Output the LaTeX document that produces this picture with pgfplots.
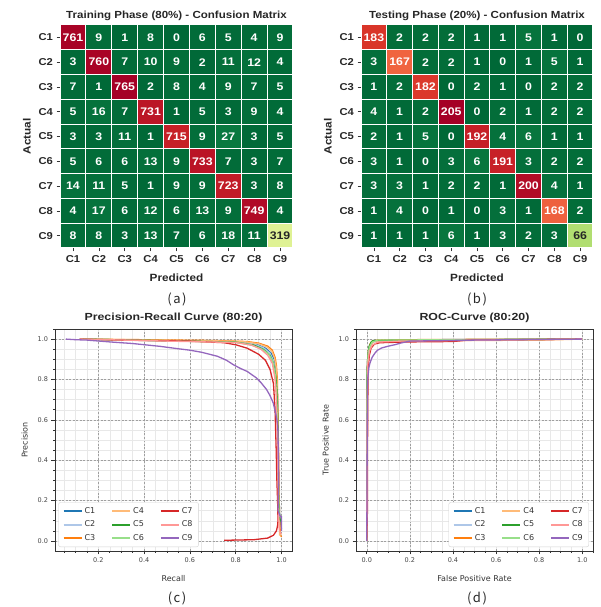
\documentclass[border=0pt]{standalone}
\usepackage{pgfplots}
\pgfplotsset{compat=1.18}
\usepackage{pgfplotstable}
\usepackage{fontspec}
\setmainfont{DejaVu Sans}
\newfontfamily\arialwide[FakeStretch=1.12]{Liberation Sans}
\newfontfamily\arialmid[FakeStretch=1.2]{Liberation Sans}
\newfontfamily\cjk{Noto Sans CJK SC}

\definecolor{cA}{HTML}{1F77B4}
\definecolor{cB}{HTML}{AEC7E8}
\definecolor{cC}{HTML}{FF7F0E}
\definecolor{cD}{HTML}{FFBB78}
\definecolor{cE}{HTML}{2CA02C}
\definecolor{cF}{HTML}{98DF8A}
\definecolor{cG}{HTML}{D62728}
\definecolor{cH}{HTML}{FF9896}
\definecolor{cI}{HTML}{9467BD}
\definecolor{axgray}{HTML}{333333}
\definecolor{tickgray}{HTML}{444444}
\definecolor{darktxt}{HTML}{262626}

% confusion matrices: x = predicted, y = actual, c = count, t = 1 for dark text
\pgfplotstableread[row sep=\\]{
x y c t\\
1 1 761 0\\ 2 1 9 0\\ 3 1 1 0\\ 4 1 8 0\\ 5 1 0 0\\ 6 1 6 0\\ 7 1 5 0\\ 8 1 4 0\\ 9 1 9 0\\
1 2 3 0\\ 2 2 760 0\\ 3 2 7 0\\ 4 2 10 0\\ 5 2 9 0\\ 6 2 2 0\\ 7 2 11 0\\ 8 2 12 0\\ 9 2 4 0\\
1 3 7 0\\ 2 3 1 0\\ 3 3 765 0\\ 4 3 2 0\\ 5 3 8 0\\ 6 3 4 0\\ 7 3 9 0\\ 8 3 7 0\\ 9 3 5 0\\
1 4 5 0\\ 2 4 16 0\\ 3 4 7 0\\ 4 4 731 0\\ 5 4 1 0\\ 6 4 5 0\\ 7 4 3 0\\ 8 4 9 0\\ 9 4 4 0\\
1 5 3 0\\ 2 5 3 0\\ 3 5 11 0\\ 4 5 1 0\\ 5 5 715 0\\ 6 5 9 0\\ 7 5 27 0\\ 8 5 3 0\\ 9 5 5 0\\
1 6 5 0\\ 2 6 6 0\\ 3 6 6 0\\ 4 6 13 0\\ 5 6 9 0\\ 6 6 733 0\\ 7 6 7 0\\ 8 6 3 0\\ 9 6 7 0\\
1 7 14 0\\ 2 7 11 0\\ 3 7 5 0\\ 4 7 1 0\\ 5 7 9 0\\ 6 7 9 0\\ 7 7 723 0\\ 8 7 3 0\\ 9 7 8 0\\
1 8 4 0\\ 2 8 17 0\\ 3 8 6 0\\ 4 8 12 0\\ 5 8 6 0\\ 6 8 13 0\\ 7 8 9 0\\ 8 8 749 0\\ 9 8 4 0\\
1 9 8 0\\ 2 9 8 0\\ 3 9 3 0\\ 4 9 13 0\\ 5 9 7 0\\ 6 9 6 0\\ 7 9 18 0\\ 8 9 11 0\\ 9 9 319 1\\
}\cmtrain

\pgfplotstableread[row sep=\\]{
x y c t\\
1 1 183 0\\ 2 1 2 0\\ 3 1 2 0\\ 4 1 2 0\\ 5 1 1 0\\ 6 1 1 0\\ 7 1 5 0\\ 8 1 1 0\\ 9 1 0 0\\
1 2 3 0\\ 2 2 167 0\\ 3 2 2 0\\ 4 2 2 0\\ 5 2 1 0\\ 6 2 0 0\\ 7 2 1 0\\ 8 2 5 0\\ 9 2 1 0\\
1 3 1 0\\ 2 3 2 0\\ 3 3 182 0\\ 4 3 0 0\\ 5 3 2 0\\ 6 3 1 0\\ 7 3 0 0\\ 8 3 2 0\\ 9 3 2 0\\
1 4 4 0\\ 2 4 1 0\\ 3 4 2 0\\ 4 4 205 0\\ 5 4 0 0\\ 6 4 2 0\\ 7 4 1 0\\ 8 4 2 0\\ 9 4 2 0\\
1 5 2 0\\ 2 5 1 0\\ 3 5 5 0\\ 4 5 0 0\\ 5 5 192 0\\ 6 5 4 0\\ 7 5 6 0\\ 8 5 1 0\\ 9 5 1 0\\
1 6 3 0\\ 2 6 1 0\\ 3 6 0 0\\ 4 6 3 0\\ 5 6 6 0\\ 6 6 191 0\\ 7 6 3 0\\ 8 6 2 0\\ 9 6 2 0\\
1 7 3 0\\ 2 7 3 0\\ 3 7 1 0\\ 4 7 2 0\\ 5 7 2 0\\ 6 7 1 0\\ 7 7 200 0\\ 8 7 4 0\\ 9 7 1 0\\
1 8 1 0\\ 2 8 4 0\\ 3 8 0 0\\ 4 8 1 0\\ 5 8 0 0\\ 6 8 3 0\\ 7 8 1 0\\ 8 8 168 0\\ 9 8 2 0\\
1 9 1 0\\ 2 9 1 0\\ 3 9 1 0\\ 4 9 6 0\\ 5 9 1 0\\ 6 9 3 0\\ 7 9 2 0\\ 8 9 3 0\\ 9 9 66 1\\
}\cmtest

\pgfplotsset{
  hm/.style={
    scale only axis, width=233pt, height=223pt,
    xmin=0.5, xmax=9.5, ymin=0.5, ymax=9.5, y dir=reverse, enlargelimits=false,
    colormap={rdylgnr}{rgb255=(0,104,55) rgb255=(26,152,80) rgb255=(102,189,99)
      rgb255=(166,217,106) rgb255=(217,239,139) rgb255=(255,255,191) rgb255=(254,224,139)
      rgb255=(253,174,97) rgb255=(244,109,67) rgb255=(215,48,39) rgb255=(165,0,38)},
    xtick={1,...,9}, ytick={1,...,9},
    xticklabels={C1,C2,C3,C4,C5,C6,C7,C8,C9},
    yticklabels={C1,C2,C3,C4,C5,C6,C7,C8,C9},
    minor xtick={1.5,2.5,...,8.5}, minor ytick={1.5,2.5,...,8.5},
    xminorgrids, yminorgrids, minor grid style={white, line width=1pt},
    minor tick length=0pt, major tick length=3.5pt,
    tick align=outside, xtick pos=bottom, ytick pos=left,
    tick style={axgray, line width=0.6pt},
    axis line style={white, line width=1pt},
    axis on top,
    /pgf/number format/assume math mode=true,
    ticklabel style={font=\arialwide\bfseries\fontsize{10}{12}\selectfont, text=darktxt},
    xlabel={Predicted}, ylabel={Actual},
    label style={font=\arialwide\bfseries\fontsize{10.5}{13}\selectfont, text=darktxt},
    xlabel style={yshift=-4.5pt}, ylabel style={yshift=1pt},
    title style={font=\arialwide\bfseries\fontsize{10.3}{12}\selectfont, text=darktxt, yshift=-5pt},
  },
  hmtext/.style={
    draw=none, mark=none, point meta=explicit,
    nodes near coords,
    nodes near coords style={anchor=center, text=white,
      font=\arialwide\bfseries\fontsize{11}{13}\selectfont},
  },
  curve/.style={
    scale only axis, width=237pt, height=222pt,
    ymin=-0.05, ymax=1.05,
    ytick={0,0.2,0.4,0.6,0.8,1},
    minor xtick={0,0.05,...,1.05}, minor ytick={0,0.05,...,1.05},
    grid=both,
    major grid style={dash pattern=on 2pt off 1.5pt, gray!75, line width=0.5pt},
    minor grid style={gray!18, line width=0.4pt},
    tick align=outside, xtick pos=bottom, ytick pos=left,
    major tick length=3.5pt, minor tick length=2pt,
    tick style={axgray, line width=0.6pt},
    axis line style={axgray, line width=0.9pt},
    ticklabel style={font=\fontsize{6.5}{8}\selectfont, text=tickgray},
    /pgf/number format/assume math mode=true,
    /pgf/number format/fixed, /pgf/number format/fixed zerofill,
    /pgf/number format/precision=1,
    label style={font=\fontsize{8}{10}\selectfont, text=axgray},
    xlabel style={yshift=-6pt}, ylabel style={yshift=3pt},
    title style={font=\arialmid\bfseries\fontsize{10.3}{12}\selectfont, text=darktxt, yshift=-3pt},
    legend columns=3,
    legend style={font=\fontsize{8}{10}\selectfont, draw=gray!35, fill=white,
      rounded corners=2pt, inner xsep=4pt, inner ysep=3pt, row sep=2pt,
      /tikz/every even column/.append style={column sep=14pt}},
    legend image code/.code={\draw[#1, line width=2pt] (0pt,0pt) -- (18pt,0pt);},
    every axis plot/.append style={line width=1.3pt, mark=none, forget plot},
  },
  % legend laid out column by column as in the source: C1 C2 C3 | C4 C5 C6 | C7 C8 C9
  legendset/.code={
    \addlegendimage{cA}\addlegendentry{\textcolor{axgray}{C1}}
    \addlegendimage{cD}\addlegendentry{\textcolor{axgray}{C4}}
    \addlegendimage{cG}\addlegendentry{\textcolor{axgray}{C7}}
    \addlegendimage{cB}\addlegendentry{\textcolor{axgray}{C2}}
    \addlegendimage{cE}\addlegendentry{\textcolor{axgray}{C5}}
    \addlegendimage{cH}\addlegendentry{\textcolor{axgray}{C8}}
    \addlegendimage{cC}\addlegendentry{\textcolor{axgray}{C3}}
    \addlegendimage{cF}\addlegendentry{\textcolor{axgray}{C6}}
    \addlegendimage{cI}\addlegendentry{\textcolor{axgray}{C9}}
  },
}

\begin{document}
\begin{tikzpicture}
\path[use as bounding box] (0,0) rectangle (601pt,607pt);

% (a) training confusion matrix
\begin{axis}[hm, at={(60pt,359pt)}, anchor=south west,
  point meta min=0, point meta max=765,
  title={Training Phase (80\%) - Confusion Matrix}]
\addplot[matrix plot*, mesh/cols=9, point meta=explicit] table[x=x,y=y,meta=c] {\cmtrain};
\addplot[hmtext, restrict expr to domain={\thisrow{t}}{0:0.5}] table[x=x,y=y,meta=c] {\cmtrain};
\addplot[hmtext, nodes near coords style={text=darktxt}, restrict expr to domain={\thisrow{t}}{0.5:1}] table[x=x,y=y,meta=c] {\cmtrain};
\end{axis}

% (b) testing confusion matrix
\begin{axis}[hm, at={(361pt,359pt)}, anchor=south west, width=232pt,
  point meta min=0, point meta max=205,
  title={Testing Phase (20\%) - Confusion Matrix}]
\addplot[matrix plot*, mesh/cols=9, point meta=explicit] table[x=x,y=y,meta=c] {\cmtest};
\addplot[hmtext, restrict expr to domain={\thisrow{t}}{0:0.5}] table[x=x,y=y,meta=c] {\cmtest};
\addplot[hmtext, nodes near coords style={text=darktxt}, restrict expr to domain={\thisrow{t}}{0.5:1}] table[x=x,y=y,meta=c] {\cmtest};
\end{axis}

% (c) precision-recall
\begin{axis}[curve, at={(55pt,56pt)}, anchor=south west,
  xmin=0.011, xmax=1.046, xtick={0.2,0.4,0.6,0.8,1},
  title={Precision-Recall Curve (80:20)}, xlabel={Recall}, ylabel={Precision},
  legend style={at={(0.014,0.018)}, anchor=south west}]
\pgfplotsset{legendset}
\addplot[cA] coordinates {(0.12,1) (0.3,0.996) (0.6,0.99) (0.8,0.987) (0.86,0.98) (0.9,0.97) (0.93,0.955) (0.955,0.93) (0.968,0.9) (0.975,0.86) (0.98,0.8) (0.983,0.7) (0.986,0.5) (0.988,0.3) (0.99,0.2) (0.992,0.13) (0.995,0.1) (1,0.06)};
\addplot[cB] coordinates {(0.12,1) (0.35,0.995) (0.65,0.99) (0.82,0.985) (0.88,0.975) (0.92,0.958) (0.95,0.93) (0.965,0.89) (0.974,0.84) (0.979,0.75) (0.983,0.6) (0.986,0.4) (0.988,0.22) (0.99,0.12) (1,0.106)};
\addplot[cC] coordinates {(0.12,1) (0.4,0.997) (0.7,0.993) (0.85,0.988) (0.9,0.98) (0.94,0.965) (0.96,0.945) (0.972,0.91) (0.978,0.87) (0.982,0.8) (0.985,0.6) (0.988,0.4) (0.99,0.2) (0.992,0.12) (0.995,0.03) (1,0.02)};
\addplot[cD] coordinates {(0.12,1) (0.4,0.996) (0.7,0.992) (0.84,0.987) (0.9,0.977) (0.935,0.962) (0.958,0.94) (0.97,0.905) (0.977,0.86) (0.981,0.78) (0.984,0.6) (0.987,0.4) (0.989,0.2) (0.99,0.12) (0.992,0.03) (1,0.03)};
\addplot[cE] coordinates {(0.12,1) (0.5,0.992) (0.8,0.985) (0.88,0.97) (0.92,0.95) (0.95,0.92) (0.965,0.88) (0.975,0.82) (0.98,0.75) (0.984,0.6) (0.985,0.45) (0.986,0.3) (0.988,0.2) (0.99,0.14) (0.995,0.1) (1,0.1)};
\addplot[cF] coordinates {(0.12,1) (0.5,0.991) (0.8,0.984) (0.87,0.97) (0.915,0.95) (0.945,0.925) (0.962,0.89) (0.972,0.83) (0.978,0.74) (0.982,0.6) (0.984,0.45) (0.986,0.3) (0.988,0.17) (0.99,0.12) (1,0.12)};
\addplot[cG] coordinates {(0.12,1) (0.3,0.995) (0.6,0.99) (0.75,0.982) (0.8,0.972) (0.85,0.955) (0.9,0.925) (0.93,0.895) (0.95,0.85) (0.965,0.78) (0.972,0.65) (0.977,0.45) (0.98,0.3) (0.983,0.2) (0.985,0.1) (0.983,0.075) (0.978,0.05) (0.965,0.028) (0.94,0.014) (0.88,0.006) (0.75,0.003)};
\addplot[cH] coordinates {(0.12,1) (0.5,0.99) (0.8,0.983) (0.87,0.97) (0.91,0.95) (0.94,0.92) (0.96,0.88) (0.972,0.8) (0.978,0.7) (0.982,0.5) (0.985,0.3) (0.987,0.15) (0.99,0.06) (0.995,0.04) (1,0.035)};
\addplot[cI] coordinates {(0.058,1) (0.1,0.997) (0.15,0.995) (0.25,0.986) (0.35,0.978) (0.47,0.964) (0.55,0.952) (0.6,0.945) (0.65,0.935) (0.72,0.915) (0.76,0.895) (0.79,0.873) (0.82,0.855) (0.85,0.84) (0.89,0.808) (0.91,0.785) (0.935,0.75) (0.95,0.72) (0.964,0.684) (0.975,0.63) (0.98,0.6) (0.984,0.57) (0.986,0.45) (0.988,0.3) (0.985,0.15) (0.995,0.12) (1,0.12) (1,0.05)};
\end{axis}

% (d) ROC
\begin{axis}[curve, at={(356pt,56pt)}, anchor=south west,
  xmin=-0.05, xmax=1.05, xtick={0,0.2,0.4,0.6,0.8,1},
  title={ROC-Curve (80:20)}, xlabel={False Positive Rate}, ylabel={True Positive Rate},
  legend style={at={(0.983,0.018)}, anchor=south east}]
\pgfplotsset{legendset}
\addplot[cA] coordinates {(0,0) (0.001,0.5) (0.002,0.85) (0.006,0.93) (0.012,0.965) (0.02,0.98) (0.035,0.99) (0.1,0.995) (0.3,0.997) (1,1)};
\addplot[cB] coordinates {(0,0) (0.001,0.6) (0.003,0.87) (0.008,0.94) (0.015,0.97) (0.03,0.985) (0.06,0.99) (0.2,0.995) (1,1)};
\addplot[cC] coordinates {(0,0) (0.001,0.7) (0.003,0.88) (0.008,0.95) (0.015,0.975) (0.025,0.99) (0.05,0.995) (0.3,0.998) (1,1)};
\addplot[cD] coordinates {(0,0) (0.002,0.15) (0.003,0.8) (0.007,0.9) (0.012,0.95) (0.02,0.975) (0.035,0.99) (0.83,0.995) (1,1)};
\addplot[cE] coordinates {(0,0) (0.001,0.8) (0.004,0.9) (0.01,0.96) (0.02,0.985) (0.03,0.993) (1,1)};
\addplot[cF] coordinates {(0,0) (0.002,0.82) (0.006,0.92) (0.012,0.96) (0.025,0.985) (0.05,0.995) (1,1)};
\addplot[cG] coordinates {(0,0) (0.003,0.15) (0.004,0.6) (0.006,0.85) (0.012,0.92) (0.02,0.955) (0.035,0.975) (0.06,0.982) (0.2,0.986) (0.4,0.988) (0.47,0.995) (1,1)};
\addplot[cH] coordinates {(0,0) (0.002,0.7) (0.005,0.88) (0.012,0.94) (0.025,0.97) (0.05,0.985) (0.15,0.99) (0.6,0.995) (1,1)};
\addplot[cI] coordinates {(0,0) (0.002,0.5) (0.004,0.8) (0.01,0.86) (0.015,0.882) (0.025,0.91) (0.038,0.931) (0.05,0.945) (0.069,0.956) (0.1,0.965) (0.13,0.972) (0.16,0.981) (0.2,0.99) (0.5,0.995) (1,1)};
\end{axis}

% panel captions
\node[font=\cjk\fontsize{13}{15}\selectfont, text=darktxt] at (177pt,308pt) {(\hspace{1.5pt}a\hspace{1.5pt})};
\node[font=\cjk\fontsize{13}{15}\selectfont, text=darktxt] at (477pt,308pt) {(\hspace{1.5pt}b\hspace{1.5pt})};
\node[font=\cjk\fontsize{13}{15}\selectfont, text=darktxt] at (177pt,9pt) {(\hspace{1.5pt}c\hspace{1.5pt})};
\node[font=\cjk\fontsize{13}{15}\selectfont, text=darktxt] at (477pt,9pt) {(\hspace{1.5pt}d\hspace{1.5pt})};
\end{tikzpicture}
\end{document}
